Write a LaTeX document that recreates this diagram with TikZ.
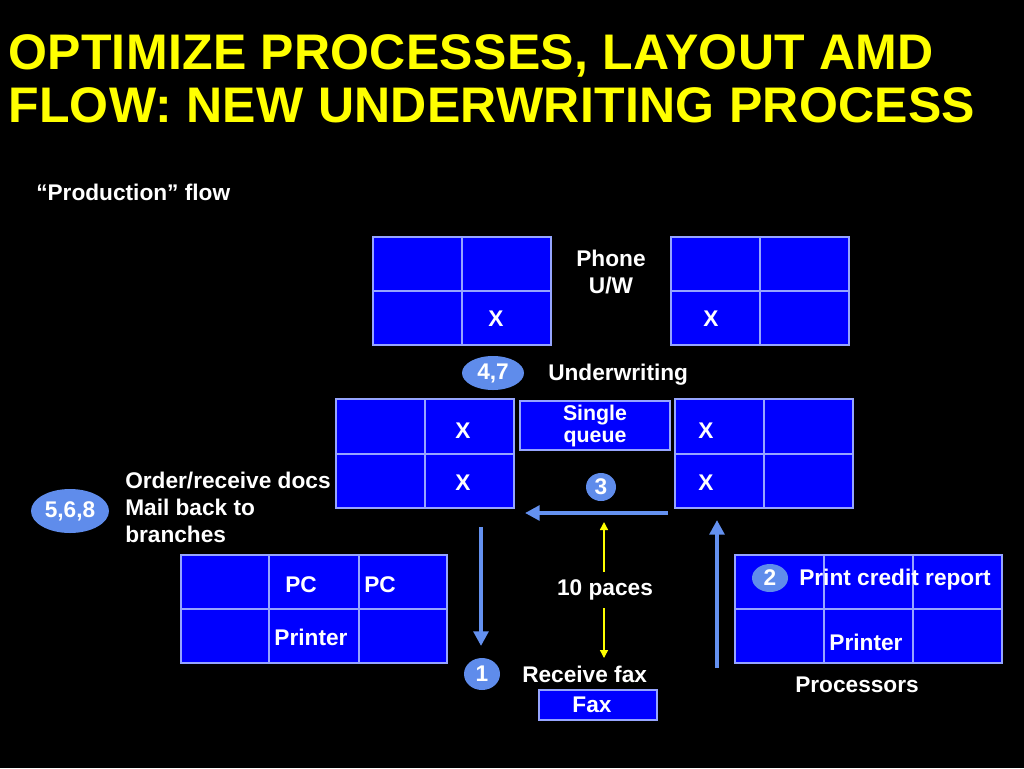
\documentclass[tikz,border=0pt]{standalone}
\usepackage{fontspec}
\setmainfont{Liberation Sans}
\usetikzlibrary{arrows.meta,shapes.geometric,calc}
\definecolor{cellblue}{RGB}{0,0,255}
\definecolor{gridline}{RGB}{150,165,255}
\definecolor{ovalblue}{RGB}{95,140,235}
\definecolor{flowblue}{RGB}{100,145,240}
\definecolor{titleyellow}{RGB}{255,255,0}
\newfontfamily\titlefont[LetterSpace=0.6]{Liberation Sans}
\begin{document}
\begin{tikzpicture}[x=0.75pt,y=-0.75pt,
  gridbox/.style={draw=gridline, fill=cellblue, line width=1.5pt, inner sep=0pt, anchor=north west},
  gridrule/.style={draw=gridline, line width=1.5pt},
  lbl/.style={text=white, font=\fontsize{17}{20}\selectfont\bfseries, inner sep=0pt},
  oval/.style={ellipse, fill=ovalblue, text=white, inner sep=0pt, font=\fontsize{17}{20}\selectfont\bfseries},
  flow/.style={draw=flowblue, line width=3pt, -{Triangle[length=11pt,width=11pt]}},
  pace/.style={draw=titleyellow, line width=1pt, -{Triangle[length=6pt,width=6pt]}},
  titletext/.style={text=titleyellow, font=\titlefont\fontsize{37.5}{39}\selectfont\bfseries, inner sep=0pt, anchor=base west}
]
\fill[black] (0,0) rectangle (1024,768);
\useasboundingbox (0,0) rectangle (1024,768);

% title
\node[titletext] (t1) at (8,69) {OPTIMIZE PROCESSES, LAYOUT AMD};
\node[titletext] (t2) at (8,122) {FLOW: NEW UNDERWRITING PROCESS};
\node[lbl, anchor=base west] (prod) at (36,200) {“Production” flow};

% top-left grid
\node[gridbox, minimum width=133.5pt, minimum height=81pt] (tl) at (372,236) {};
\draw[gridrule] (tl.north) -- (tl.south) (tl.west) -- (tl.east);
% top-right grid
\node[gridbox, minimum width=133.5pt, minimum height=81pt] (tr) at (670,236) {};
\draw[gridrule] (tr.north) -- (tr.south) (tr.west) -- (tr.east);
% middle-left grid
\node[gridbox, minimum width=133.5pt, minimum height=81.75pt] (ml) at (335,398) {};
\draw[gridrule] (ml.north) -- (ml.south) (ml.west) -- (ml.east);
% middle-right grid
\node[gridbox, minimum width=133.5pt, minimum height=81.75pt] (mr) at (674,398) {};
\draw[gridrule] (mr.north) -- (mr.south) (mr.west) -- (mr.east);
% bottom-left grid
\node[gridbox, minimum width=199.5pt, minimum height=81pt] (bl) at (180,554) {};
\draw[gridrule] ($(bl.north west)!1/3!(bl.north east)$) -- ($(bl.south west)!1/3!(bl.south east)$)
                ($(bl.north west)!2/3!(bl.north east)$) -- ($(bl.south west)!2/3!(bl.south east)$)
                (bl.west) -- (bl.east);
% bottom-right grid
\node[gridbox, minimum width=200.25pt, minimum height=81pt] (br) at (734,554) {};
\draw[gridrule] ($(br.north west)!1/3!(br.north east)$) -- ($(br.south west)!1/3!(br.south east)$)
                ($(br.north west)!2/3!(br.north east)$) -- ($(br.south west)!2/3!(br.south east)$)
                (br.west) -- (br.east);
% single queue and fax boxes
\node[gridbox, minimum width=112.5pt, minimum height=36.75pt] (sq) at (519,400) {};
\node[gridbox, minimum width=88.5pt, minimum height=22.5pt] (fax) at (538,689) {};

% labels
\node[lbl, anchor=base] (phone) at (611,266) {Phone};
\node[lbl, anchor=base] (uw) at (611,293) {U/W};
\node[lbl, anchor=base] (x1) at (496,326) {X};
\node[lbl, anchor=base] (x2) at (711,326) {X};
\node[lbl, anchor=base west] (under) at (548,380) {Underwriting};
\node[lbl, align=center, font=\fontsize{16}{16.5}\selectfont\bfseries] (single) at (sq.center) {Single\\queue};
\node[lbl, anchor=base] (x3) at (463,438) {X};
\node[lbl, anchor=base] (x4) at (463,490) {X};
\node[lbl, anchor=base] (x5) at (706,438) {X};
\node[lbl, anchor=base] (x6) at (706,490) {X};
\node[lbl, anchor=base west] (order) at (125,488) {Order/receive docs};
\node[lbl, anchor=base west] (mail) at (125,515) {Mail back to};
\node[lbl, anchor=base west] (branches) at (125,542) {branches};
\node[lbl, anchor=base] (pc1) at (301,592) {PC};
\node[lbl, anchor=base] (pc2) at (380,592) {PC};
\node[lbl, anchor=base] (printl) at (311,645) {Printer};
\node[lbl, anchor=base] (paces) at (605,595) {10 paces};
\node[lbl, anchor=base west] (credit) at (799,585) {Print credit report};
\node[lbl, anchor=base] (printr) at (866,650) {Printer};
\node[lbl, anchor=base west] (rfax) at (522,682) {Receive fax};
\node[lbl, anchor=base west] (proc) at (795,692) {Processors};
\node[lbl, anchor=base] (faxt) at (592,712) {Fax};

% ovals
\node[oval, minimum width=46.5pt, minimum height=25.5pt] (o47) at (493,373) {4,7};
\node[oval, minimum width=58.5pt, minimum height=33pt] (o568) at (70,511) {5,6,8};
\node[oval, minimum width=22.5pt, minimum height=21pt] (o3) at (601,487) {3};
\node[oval, minimum width=27pt, minimum height=24pt] (o1) at (482,674) {1};
\node[oval, minimum width=27pt, minimum height=21pt] (o2) at (770,578) {2};

% flow arrows
\coordinate (la) at (668,513);
\coordinate (lb) at (525,513);
\coordinate (da) at (481,527);
\coordinate (db) at (481,646);
\coordinate (ua) at (717,668);
\coordinate (ub) at (717,520);
\draw[flow] (la) -- (lb);
\draw[flow] (da) -- (db);
\draw[flow] (ua) -- (ub);

% paces arrows
\coordinate (pa) at (604,572);
\coordinate (pb) at (604,522);
\coordinate (pc) at (604,608);
\coordinate (pd) at (604,658);
\draw[pace] (pa) -- (pb);
\draw[pace] (pc) -- (pd);
\end{tikzpicture}
\end{document}
